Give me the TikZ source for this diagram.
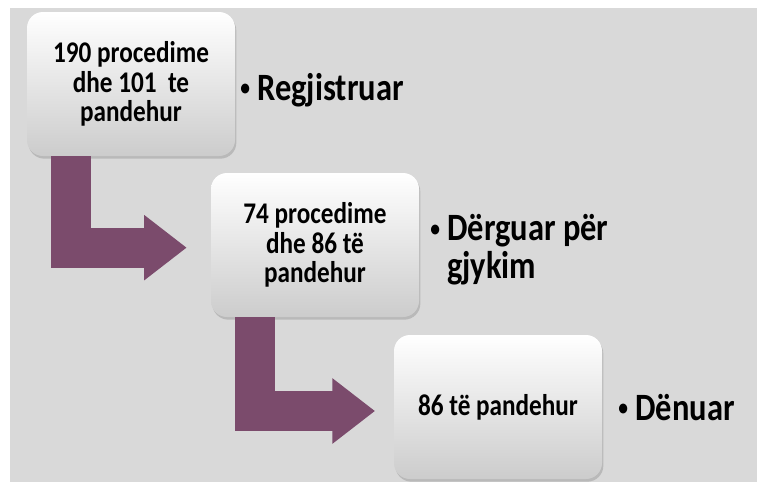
\documentclass[tikz,border=0pt]{standalone}
\usepackage{fontspec}
\setmainfont{Carlito}[FakeStretch=0.84]
\usetikzlibrary{arrows.meta,shadows}
\definecolor{bggray}{HTML}{D9D9D9}
\definecolor{plum}{HTML}{7B4B6C}
\newcommand{\bul}{\raisebox{0.12em}{\scalebox{0.6}{•}}}
\tikzset{
	box/.style={rounded corners=12pt, minimum width=156pt, minimum height=108pt,
		top color=white, bottom color=gray!40, shading angle=0,
		drop shadow={shadow xshift=1pt, shadow yshift=-2pt, opacity=0.35},
		align=center, font=\fontsize{22.5}{22}\selectfont\bfseries},
	lbl/.style={inner sep=0pt, font=\fontsize{29}{27}\selectfont\bfseries},
	larrow/.style={draw=plum, line width=30pt,
		-{Triangle[length=32pt,width=47pt]}},
}
\begin{document}
\begin{tikzpicture}[x=0.75pt,y=-0.75pt]
		\useasboundingbox (0,0) rectangle (757,482);
		\fill[bggray] (10,8) rectangle (757,482);
		
		% Steps
		\node[box] (b1) at (131,84) {190 procedime\\dhe 101~ te\\pandehur};
		\node[box] (b2) at (315,245) {74 procedime\\dhe 86 të\\pandehur};
		\node[box] (b3) at (498,407) {86 të pandehur};
		
		% Arrows
		\draw[larrow] ([xshift=33pt]b1.south west) |- ([xshift=-18pt,yshift=-2pt]b2.west);
		\draw[larrow] ([xshift=33pt]b2.south west) |- ([xshift=-14pt,yshift=-3pt]b3.west);
		
		\node[lbl, anchor=base west] (t1) at (240,100) {\bul\ Regjistruar};
		\node[lbl, anchor=west] (t2) at (430,252) {\begin{tabular}{@{}l@{\ }l@{}}\bul & Dërguar për\\ & gjykim\end{tabular}};
		\node[lbl, anchor=base west] (t3) at (618,420) {\bul\ Dënuar};
	\end{tikzpicture}
\end{document}
